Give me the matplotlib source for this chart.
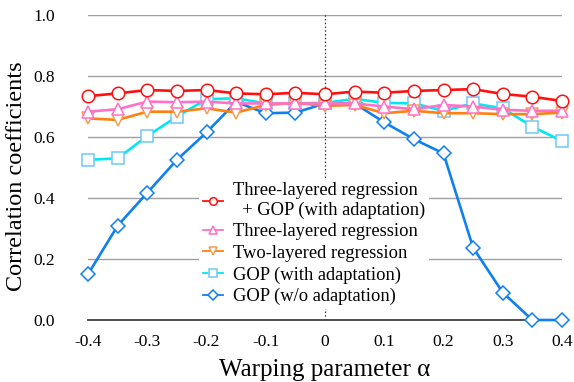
import matplotlib
matplotlib.use("Agg")
import matplotlib.pyplot as plt

plt.rcParams['font.family'] = ['Liberation Serif', 'DejaVu Serif']
plt.rcParams['mathtext.fontset'] = 'stix'

alpha = [-0.4, -0.35, -0.3, -0.25, -0.2, -0.15, -0.1, -0.05, 0.0,
         0.05, 0.1, 0.15, 0.2, 0.25, 0.3, 0.35, 0.4]

three_gop = [0.734, 0.743, 0.754, 0.751, 0.754, 0.743, 0.740, 0.745, 0.740,
             0.749, 0.745, 0.751, 0.754, 0.757, 0.741, 0.732, 0.718]
three_reg = [0.683, 0.691, 0.716, 0.714, 0.716, 0.710, 0.710, 0.710, 0.710,
             0.710, 0.700, 0.691, 0.705, 0.700, 0.689, 0.686, 0.686]
two_reg = [0.661, 0.656, 0.683, 0.683, 0.694, 0.680, 0.705, 0.712, 0.702,
           0.705, 0.678, 0.686, 0.678, 0.678, 0.675, 0.675, 0.680]
gop_adapt = [0.525, 0.530, 0.603, 0.667, 0.724, 0.727, 0.710, 0.710, 0.712,
             0.725, 0.712, 0.710, 0.686, 0.710, 0.694, 0.634, 0.587]
gop_noadapt = [0.150, 0.309, 0.417, 0.525, 0.615, 0.715, 0.678, 0.680, 0.710,
               0.710, 0.648, 0.593, 0.546, 0.237, 0.090, 0.0, 0.0]

labels = ["Three-layered regression\n  + GOP (with adaptation)",
          "Three-layered regression",
          "Two-layered regression",
          "GOP (with adaptation)",
          "GOP (w/o adaptation)"]

xticks = [-0.4, -0.3, -0.2, -0.1, 0.0, 0.1, 0.2, 0.3, 0.4]
xticklabels = ["-0.4", "-0.3", "-0.2", "-0.1", "0", "0.1", "0.2", "0.3", "0.4"]
yticks = [0.0, 0.2, 0.4, 0.6, 0.8, 1.0]
yticklabels = ["0.0", "0.2", "0.4", "0.6", "0.8", "1.0"]

fig = plt.figure(figsize=(5.74, 3.82), dpi=100)
ax = fig.add_axes([88/574, 1-320/382, (562-88)/574, (320-15)/382])

for y in yticks[1:]:
    ax.axhline(y, color='#a0a0a0', lw=1.0, zorder=0)
ax.axvline(0, color='#333333', lw=0.9, ls=(0, (1.2, 1.8)), zorder=0.5)

lw = 1.9
ms = 9
h5, = ax.plot(alpha, gop_noadapt, color='#1080F0', lw=lw, marker='D', ms=7.5,
              mfc='white', mec='#1080F0', mew=1.1, clip_on=False, zorder=3)
h4, = ax.plot(alpha, gop_adapt, color='#00E8F0', lw=lw, marker='s', ms=8.5,
              mfc='white', mec='#70C8F8', mew=1.1, clip_on=False, zorder=3)
h3, = ax.plot(alpha, two_reg, color='#FF8010', lw=lw, marker='v', ms=ms,
              mfc='white', mec='#F0A050', mew=1.1, clip_on=False, zorder=4)
h2, = ax.plot(alpha, three_reg, color='#FF70C8', lw=lw, marker='^', ms=ms,
              mfc='white', mec='#FF70C8', mew=1.1, clip_on=False, zorder=5)
h1, = ax.plot(alpha, three_gop, color='#FF1010', lw=lw, marker='o', ms=ms,
              mfc='white', mec='#FF1010', mew=1.1, clip_on=False, zorder=6)

ax.set_xlim(-0.4, 0.4)
ax.set_ylim(0.0, 1.0)
ax.set_xticks(xticks)
ax.set_xticklabels(xticklabels)
ax.set_yticks(yticks)
ax.set_yticklabels(yticklabels)
ax.tick_params(axis='both', length=0, labelsize=12.5, colors='black')
ax.tick_params(axis='y', pad=24)
ax.tick_params(axis='x', pad=10)

for s in ['top', 'right', 'left']:
    ax.spines[s].set_visible(False)
ax.spines['bottom'].set_color('#404040')
ax.spines['bottom'].set_linewidth(1.3)
ax.spines['bottom'].set_zorder(2)

ax.set_xlabel("Warping parameter α", fontsize=18, labelpad=6.5)
ax.set_ylabel("Correlation coefficients", fontsize=17.5, labelpad=4)
ax.yaxis.label.set_y(0.472)

leg = ax.legend([h1, h2, h3, h4, h5], labels, loc='lower left',
                bbox_to_anchor=(199/574, 1-309/382), bbox_transform=fig.transFigure,
                frameon=True, fontsize=13.3, handlelength=1.1, handletextpad=0.55,
                labelspacing=0.24, borderpad=0.2, borderaxespad=0)
leg.get_frame().set_edgecolor('none')
leg.get_frame().set_facecolor('white')
leg.get_frame().set_alpha(1)
leg.set_zorder(10)
for lh in leg.legend_handles:
    lh.set_markersize(5.5)
    lh.set_linewidth(1.3)

fig.savefig("out.png", dpi=100)
